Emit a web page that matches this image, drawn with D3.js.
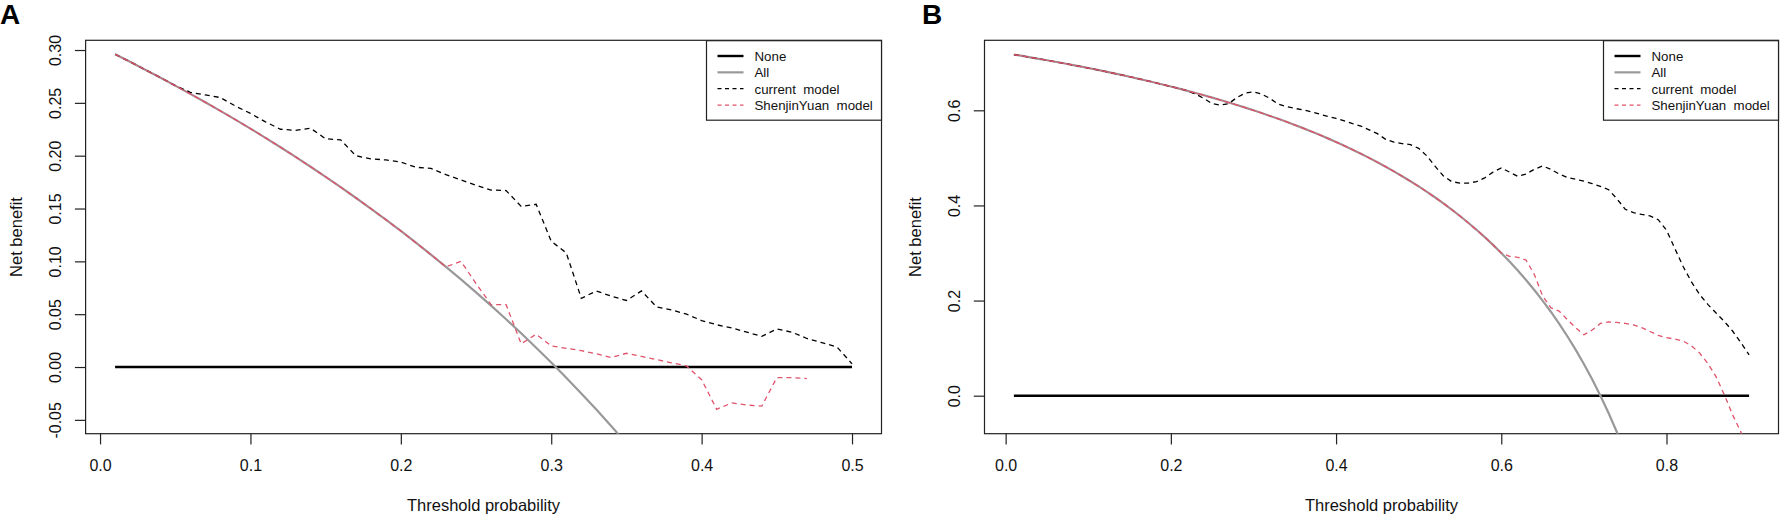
<!DOCTYPE html>
<html>
<head>
<meta charset="utf-8">
<script src="https://cdn.jsdelivr.net/npm/d3@7"></script>
<style>
  body { margin: 0; background: #fff; }
  text { font-family: "Liberation Sans", Arial, sans-serif; white-space: pre; }
</style>
</head>
<body>
<svg id="chart" width="1780" height="516"></svg>
<script>
// ---- data ----
const thresholdsA = [0.01,0.02,0.03,0.04,0.05,0.06,0.07,0.08,0.09,0.10,
  0.11,0.12,0.13,0.14,0.15,0.16,0.17,0.18,0.19,0.20,
  0.21,0.22,0.23,0.24,0.25,0.26,0.27,0.28,0.29,0.30,
  0.31,0.32,0.33,0.34,0.35,0.36,0.37,0.38,0.39,0.40,
  0.41,0.42,0.43,0.44,0.45,0.46,0.47,0.48,0.49,0.50];

const allA = [0.2960,0.2888,0.2814,0.2740,0.2663,0.2585,0.2505,0.2424,0.2341,0.2256,
  0.2169,0.2080,0.1989,0.1895,0.1800,0.1702,0.1602,0.1500,0.1395,0.1288,
  0.1177,0.1064,0.0948,0.0829,0.0707,0.0581,0.0452,0.0319,0.0183,0.0043,
  -0.0101,-0.0250,-0.0403,-0.0561,-0.0723,-0.0890,-0.1062];

const currentA = [0.2960,0.2888,0.2814,0.2740,0.2663,0.2600,0.2575,0.2550,0.2470,0.2400,
  0.2320,0.2250,0.2240,0.2260,0.2160,0.2150,0.2000,0.1970,0.1960,0.1940,
  0.1890,0.1880,0.1820,0.1770,0.1720,0.1675,0.1670,0.1520,0.1540,0.1190,
  0.1080,0.0650,0.0720,0.0670,0.0630,0.0720,0.0570,0.0540,0.0500,0.0440,
  0.0400,0.0370,0.0330,0.0290,0.0360,0.0330,0.0270,0.0230,0.0190,0.0030];

const shenjinA = [0.2960,0.2888,0.2814,0.2740,0.2663,0.2585,0.2505,0.2424,0.2341,0.2256,
  0.2169,0.2080,0.1989,0.1895,0.1800,0.1702,0.1602,0.1500,0.1395,0.1288,
  0.1177,0.1064,0.0948,0.1000,0.0790,0.0590,0.0590,0.0220,0.0310,0.0200,
  0.0177,0.0155,0.0125,0.0090,0.0130,0.0100,0.0070,0.0040,0.0010,-0.0120,
  -0.0400,-0.0340,-0.0360,-0.0370,-0.0100,-0.0100,-0.0110];

const noneXA = [0.01, 0.50];
const noneA = [0, 0];

const thresholdsB = [0.01,0.02,0.03,0.04,0.05,0.06,0.07,0.08,0.09,0.10,
  0.11,0.12,0.13,0.14,0.15,0.16,0.17,0.18,0.19,0.20,
  0.21,0.22,0.23,0.24,0.25,0.26,0.27,0.28,0.29,0.30,
  0.31,0.32,0.33,0.34,0.35,0.36,0.37,0.38,0.39,0.40,
  0.41,0.42,0.43,0.44,0.45,0.46,0.47,0.48,0.49,0.50,
  0.51,0.52,0.53,0.54,0.55,0.56,0.57,0.58,0.59,0.60,
  0.61,0.62,0.63,0.64,0.65,0.66,0.67,0.68,0.69,0.70,
  0.71,0.72,0.73,0.74,0.75,0.76,0.77,0.78,0.79,0.80,
  0.81,0.82,0.83,0.84,0.85,0.86,0.87,0.88,0.89,0.90];

const allB = [0.7172,0.7143,0.7113,0.7083,0.7053,0.7021,0.6989,0.6957,0.6923,0.6889,
  0.6854,0.6818,0.6782,0.6744,0.6706,0.6667,0.6627,0.6585,0.6543,0.6500,
  0.6456,0.6410,0.6364,0.6316,0.6267,0.6216,0.6164,0.6111,0.6056,0.6000,
  0.5942,0.5882,0.5821,0.5758,0.5692,0.5625,0.5556,0.5484,0.5410,0.5333,
  0.5254,0.5172,0.5088,0.5000,0.4909,0.4815,0.4717,0.4615,0.4510,0.4400,
  0.4286,0.4167,0.4043,0.3913,0.3778,0.3636,0.3488,0.3333,0.3171,0.3000,
  0.2821,0.2632,0.2432,0.2222,0.2000,0.1765,0.1515,0.1250,0.0968,0.0667,
  0.0345,0.0000,-0.0370,-0.0769,-0.1200];

const currentB = [0.7172,0.7143,0.7113,0.7083,0.7053,0.7021,0.6989,0.6957,0.6923,0.6889,
  0.6854,0.6818,0.6782,0.6744,0.6706,0.6667,0.6627,0.6585,0.6543,0.6500,
  0.6456,0.6410,0.6340,0.6250,0.6140,0.6110,0.6140,0.6270,0.6360,0.6390,
  0.6340,0.6250,0.6130,0.6080,0.6040,0.6010,0.5970,0.5920,0.5870,0.5830,
  0.5780,0.5720,0.5670,0.5590,0.5510,0.5390,0.5330,0.5300,0.5280,0.5200,
  0.5040,0.4820,0.4620,0.4500,0.4470,0.4470,0.4500,0.4580,0.4700,0.4790,
  0.4700,0.4610,0.4660,0.4760,0.4830,0.4760,0.4660,0.4590,0.4550,0.4510,
  0.4460,0.4400,0.4330,0.4140,0.3920,0.3850,0.3810,0.3780,0.3700,0.3480,
  0.3100,0.2720,0.2400,0.2130,0.1920,0.1740,0.1560,0.1360,0.1120,0.0860];

const shenjinB = [0.7172,0.7143,0.7113,0.7083,0.7053,0.7021,0.6989,0.6957,0.6923,0.6889,
  0.6854,0.6818,0.6782,0.6744,0.6706,0.6667,0.6627,0.6585,0.6543,0.6500,
  0.6456,0.6410,0.6364,0.6316,0.6267,0.6216,0.6164,0.6111,0.6056,0.6000,
  0.5942,0.5882,0.5821,0.5758,0.5692,0.5625,0.5556,0.5484,0.5410,0.5333,
  0.5254,0.5172,0.5088,0.5000,0.4909,0.4815,0.4717,0.4615,0.4510,0.4400,
  0.4286,0.4167,0.4043,0.3913,0.3778,0.3636,0.3488,0.3333,0.3171,0.3000,
  0.2930,0.2910,0.2850,0.2550,0.2100,0.1850,0.1780,0.1600,0.1430,0.1280,
  0.1380,0.1520,0.1550,0.1540,0.1520,0.1490,0.1430,0.1350,0.1270,0.1220,
  0.1190,0.1150,0.1050,0.0900,0.0680,0.0400,0.0020,-0.0400,-0.0760,-0.1200];

const noneXB = [0.01, 0.90];
const noneB = [0, 0];

const legendLabels = ["None", "All", "current  model", "ShenjinYuan  model"];
const xTicksA = [0.0, 0.1, 0.2, 0.3, 0.4, 0.5];
const yTicksA = [-0.05, 0.00, 0.05, 0.10, 0.15, 0.20, 0.25, 0.30];
const xTicksB = [0.0, 0.2, 0.4, 0.6, 0.8];
const yTicksB = [0.0, 0.2, 0.4, 0.6];

// ---- drawing ----
const svg = d3.select("#chart");
const red = "#DF536B";
const styles = [
  {color: "#000", width: 2.4, dash: null},
  {color: "#999", width: 2.2, dash: null},
  {color: "#000", width: 1.3, dash: "5,4"},
  {color: red, width: 1.3, dash: "5,4"}
];
// plain hyphen for negatives, like base R
const locale = d3.formatLocale({decimal: ".", thousands: ",", grouping: [3], currency: ["", ""], minus: "-"});

function drawPanel(p) {
  const g = svg.append("g");
  const x = d3.scaleLinear().domain(p.xDomain).range([p.left, p.right]);
  const y = d3.scaleLinear().domain(p.yDomain).range([p.bottom, p.top]);

  g.append("clipPath").attr("id", "clip" + p.id)
    .append("rect")
    .attr("x", p.left).attr("y", p.top)
    .attr("width", p.right - p.left).attr("height", p.bottom - p.top);

  // x axis
  const xa = g.append("g")
    .attr("transform", `translate(0,${p.bottom})`)
    .call(d3.axisBottom(x).tickValues(p.xTicks).tickSize(10.7).tickFormat(locale.format(".1f")));
  xa.select(".domain").remove();
  xa.selectAll(".tick line").attr("stroke", "#222").attr("stroke-width", 1.2);
  xa.selectAll(".tick text")
    .attr("y", 37).attr("dy", 0)
    .attr("fill", "#111")
    .style("font-size", "16px");

  // y axis, labels rotated as in base R
  const ya = g.append("g")
    .attr("transform", `translate(${p.left},0)`)
    .call(d3.axisLeft(y).tickValues(p.yTicks).tickSize(10.7).tickFormat(locale.format(p.yFormat)));
  ya.select(".domain").remove();
  ya.selectAll(".tick line").attr("stroke", "#222").attr("stroke-width", 1.2);
  ya.selectAll(".tick text")
    .attr("x", 0).attr("y", 0).attr("dy", 0)
    .attr("text-anchor", "middle")
    .attr("transform", "translate(-24.3,0) rotate(-90)")
    .attr("fill", "#111")
    .style("font-size", "16px");

  // box
  g.append("rect")
    .attr("x", p.left).attr("y", p.top)
    .attr("width", p.right - p.left).attr("height", p.bottom - p.top)
    .attr("fill", "none").attr("stroke", "#222").attr("stroke-width", 1.2);

  // curves
  const line = d3.line().x(d => x(d[0])).y(d => y(d[1]));
  const plotArea = g.append("g").attr("clip-path", `url(#clip${p.id})`);
  p.series.forEach((s, i) => {
    const pts = s.values.map((v, j) => [s.xs[j], v]);
    plotArea.append("path")
      .datum(pts)
      .attr("d", line)
      .attr("fill", "none")
      .attr("stroke", styles[i].color)
      .attr("stroke-width", styles[i].width)
      .attr("stroke-dasharray", styles[i].dash);
  });
  // where the last model sits on the "All" curve its dashes read as a thin red core
  const last = p.series[3], all = p.series[1];
  let k = 0;
  while (k < last.values.length && last.values[k] === all.values[k]) k++;
  plotArea.append("path")
    .datum(last.values.slice(0, k).map((v, j) => [last.xs[j], v]))
    .attr("d", line)
    .attr("fill", "none")
    .attr("stroke", red)
    .attr("stroke-width", 0.7);

  // axis titles
  g.append("text")
    .attr("x", (p.left + p.right) / 2).attr("y", 511)
    .attr("text-anchor", "middle")
    .style("font-size", "16.5px").attr("fill", "#111")
    .text("Threshold probability");
  g.append("text")
    .attr("transform", `translate(${p.left - 64},${(p.top + p.bottom) / 2}) rotate(-90)`)
    .attr("text-anchor", "middle")
    .style("font-size", "16.5px").attr("fill", "#111")
    .text("Net benefit");

  // panel letter
  g.append("text")
    .attr("x", p.letterX).attr("y", 24)
    .style("font-size", "28px").style("font-weight", "bold")
    .text(p.id);

  // legend
  const lw = 175, lx = p.right - lw;
  const leg = g.append("g");
  leg.append("rect")
    .attr("x", lx).attr("y", p.top + 0.4)
    .attr("width", lw).attr("height", 79.5)
    .attr("fill", "#fff").attr("stroke", "#222").attr("stroke-width", 1.2);
  legendLabels.forEach((lab, i) => {
    const yy = 56 + i * 16.35;
    leg.append("line")
      .attr("x1", lx + 11).attr("x2", lx + 37)
      .attr("y1", yy).attr("y2", yy)
      .attr("stroke", styles[i].color)
      .attr("stroke-width", i < 2 ? styles[i].width : 1.2)
      .attr("stroke-dasharray", i < 2 ? null : "4,3.5");
    leg.append("text")
      .attr("x", lx + 48).attr("y", yy + 4.8)
      .style("font-size", "13.3px").attr("fill", "#111")
      .text(lab);
  });
}

drawPanel({
  id: "A", letterX: 0,
  left: 85.6, right: 881.5, top: 40.3, bottom: 433.7,
  xDomain: [-0.0096, 0.5196], yDomain: [-0.0631, 0.3092],
  xTicks: xTicksA, yTicks: yTicksA, yFormat: ".2f",
  series: [
    {xs: noneXA, values: noneA},
    {xs: thresholdsA, values: allA},
    {xs: thresholdsA, values: currentA},
    {xs: thresholdsA, values: shenjinA}
  ]
});

drawPanel({
  id: "B", letterX: 922,
  left: 984.5, right: 1778.5, top: 40.3, bottom: 433.7,
  xDomain: [-0.0256, 0.9356], yDomain: [-0.0799, 0.7472],
  xTicks: xTicksB, yTicks: yTicksB, yFormat: ".1f",
  series: [
    {xs: noneXB, values: noneB},
    {xs: thresholdsB, values: allB},
    {xs: thresholdsB, values: currentB},
    {xs: thresholdsB, values: shenjinB}
  ]
});
</script>
</body>
</html>
